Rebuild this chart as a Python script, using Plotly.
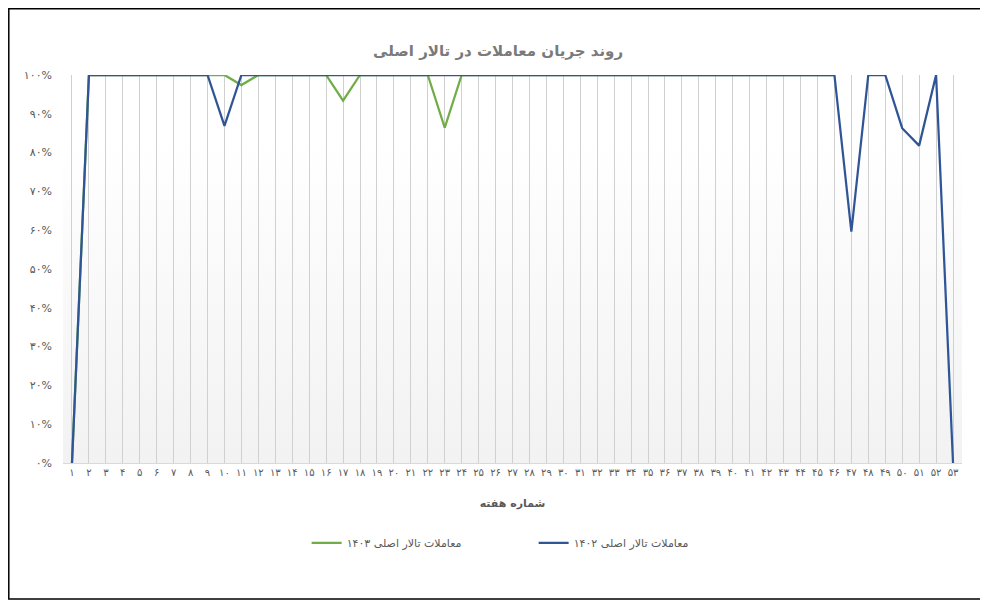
import plotly.graph_objects as go

# شماره هفته
weeks = list(range(1, 54))
week_labels = ['۱', '۲', '۳', '۴', '۵', '۶', '۷', '۸', '۹', '۱۰',
               '۱۱', '۱۲', '۱۳', '۱۴', '۱۵', '۱۶', '۱۷', '۱۸', '۱۹', '۲۰',
               '۲۱', '۲۲', '۲۳', '۲۴', '۲۵', '۲۶', '۲۷', '۲۸', '۲۹', '۳۰',
               '۳۱', '۳۲', '۳۳', '۳۴', '۳۵', '۳۶', '۳۷', '۳۸', '۳۹', '۴۰',
               '۴۱', '۴۲', '۴۳', '۴۴', '۴۵', '۴۶', '۴۷', '۴۸', '۴۹', '۵۰',
               '۵۱', '۵۲', '۵۳']

# percent of main-hall trading, 1403 (partial year)
main_1403 = [0, 100, 100, 100, 100, 100, 100, 100, 100, 100,
             97.4, 100, 100, 100, 100, 100, 93.4, 100, 100, 100,
             100, 100, 86.4, 100, 100, 100, 100, 100, 100, 100,
             100, 100, 100, 100, 100, 100, 100, 100, 100, 100,
             100, 100, 100, 100, 100, 100, None, None, None, None,
             None, None, None]

# percent of main-hall trading, 1402
main_1402 = [0, 100, 100, 100, 100, 100, 100, 100, 100, 86.9,
             100, 100, 100, 100, 100, 100, 100, 100, 100, 100,
             100, 100, 100, 100, 100, 100, 100, 100, 100, 100,
             100, 100, 100, 100, 100, 100, 100, 100, 100, 100,
             100, 100, 100, 100, 100, 100, 59.6, 100, 100, 86.3,
             81.8, 100, 0]

y_ticks = [0, 10, 20, 30, 40, 50, 60, 70, 80, 90, 100]
y_labels = ['۰%', '۱۰%', '۲۰%', '۳۰%', '۴۰%', '۵۰%', '۶۰%', '۷۰%', '۸۰%', '۹۰%', '۱۰۰%']

font_fa = "DejaVu Sans"
grey = '#595959'

fig = go.Figure()
fig.add_trace(go.Scatter(
    x=weeks, y=main_1403, mode='lines', name='معاملات تالار اصلی ۱۴۰۳',
    line=dict(color='#70AD47', width=2.25)))
fig.add_trace(go.Scatter(
    x=weeks, y=main_1402, mode='lines', name='معاملات تالار اصلی ۱۴۰۲',
    line=dict(color='#2F5597', width=2.25)))

# soft white-to-grey fill behind the plot area
grad_svg = ("data:image/svg+xml;utf8,"
            "<svg xmlns='http://www.w3.org/2000/svg' width='100' height='100' preserveAspectRatio='none'>"
            "<defs><linearGradient id='g' x1='0' y1='0' x2='0' y2='1'>"
            "<stop offset='0' stop-color='%23ffffff'/>"
            "<stop offset='0.17' stop-color='%23ffffff'/>"
            "<stop offset='1' stop-color='%23f2f2f2'/>"
            "</linearGradient></defs>"
            "<rect width='100' height='100' fill='url(%23g)'/></svg>")
fig.add_layout_image(dict(source=grad_svg, xref='paper', yref='paper', x=0, y=1,
                          sizex=1, sizey=1, sizing='stretch', layer='below'))

# outer frame
fig.add_shape(type='rect', xref='paper', yref='paper',
              x0=-0.0603, x1=1.0211, y0=-0.3505, y1=1.1708,
              line=dict(color='black', width=1.5))

fig.update_layout(
    width=980, height=595,
    margin=dict(l=55, r=26, t=67, b=140),
    paper_bgcolor='white',
    plot_bgcolor='rgba(0,0,0,0)',
    font=dict(family=font_fa, color=grey),
    title=dict(text='<b>روند جریان معاملات در تالار اصلی</b>', x=0.5, xanchor='center',
               y=0.928, yanchor='middle', font=dict(size=15, color='#7a7a7a')),
    legend=dict(orientation='h', x=0.271, xanchor='left', y=-0.206, yanchor='middle',
                entrywidth=182, entrywidthmode='pixels',
                font=dict(size=11, color=grey)),
    xaxis=dict(
        range=[0.47, 53.53], tickmode='array', tickvals=weeks, ticktext=week_labels,
        tickangle=0, tickfont=dict(size=10, color=grey),
        showgrid=True, gridcolor='#d0d0d0', gridwidth=1,
        showline=True, linecolor='#d9d9d9', zeroline=False, ticks='',
        title=dict(text='<b>شماره هفته</b>', font=dict(size=11, color=grey), standoff=22)),
    yaxis=dict(
        range=[0, 100], tickmode='array', tickvals=y_ticks, ticktext=y_labels,
        tickfont=dict(size=11, color=grey), showgrid=False, zeroline=False,
        showline=False, ticks='', ticklabelstandoff=10),
)

fig.write_html("out.html")
